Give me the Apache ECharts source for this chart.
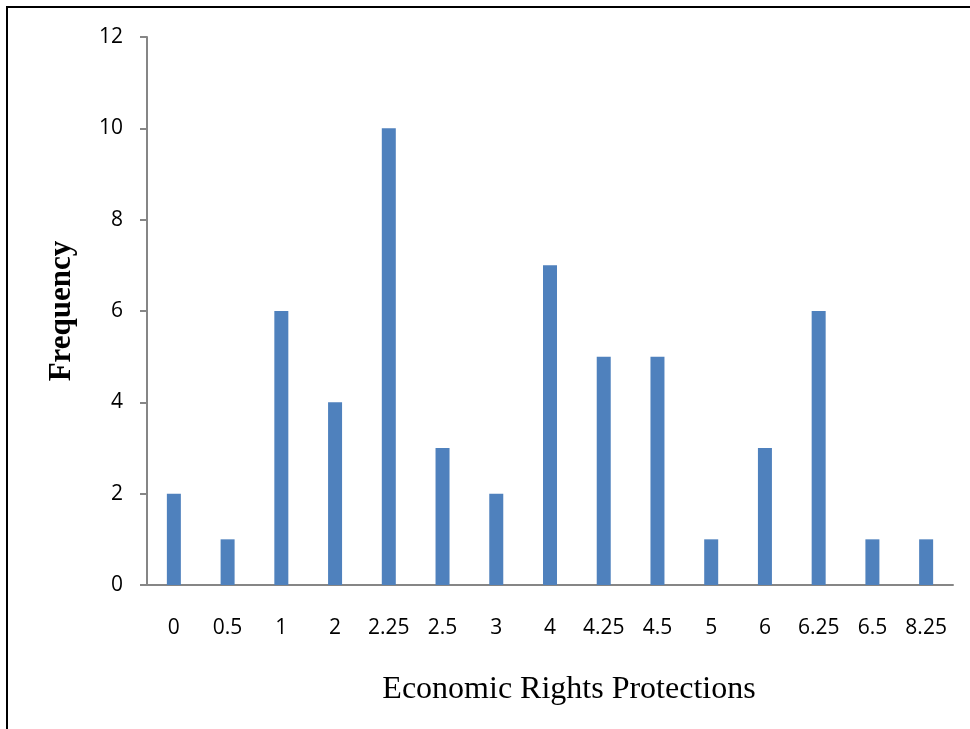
<!DOCTYPE html>
<html><head><meta charset="utf-8">
<script src="https://cdn.jsdelivr.net/npm/echarts@6/dist/echarts.min.js"></script>
<style>html,body{margin:0;padding:0;background:#fff}#c{width:970px;height:729px}</style>
</head><body><div id="c"></div>
<script>
const categories = ['0','0.5','1','2','2.25','2.5','3','4','4.25','4.5','5','6','6.25','6.5','8.25'];
const frequency = [2,1,6,4,10,3,2,7,5,5,1,3,6,1,1];
const yTicks = [0,2,4,6,8,10,12];
const xTitle = 'Economic Rights Protections';
const yTitle = 'Frequency';

const chart = echarts.init(document.getElementById('c'), null, {renderer:'canvas'});
chart.setOption({
  animation:false,
  backgroundColor:'#fff',
  graphic:[
    {type:'polyline', shape:{points:[[7,729],[7,7],[970,7]]}, style:{stroke:'#000', lineWidth:2, fill:null}},
    {type:'text', x:569, y:690, style:{text:xTitle, fill:'#000', font:'32px "Liberation Serif"', textAlign:'center', textVerticalAlign:'middle'}},
    {type:'text', x:62, y:311, rotation:Math.PI/2, style:{text:yTitle, fill:'#000', font:'bold 31px "Liberation Serif"', textAlign:'center', textVerticalAlign:'middle'}}
  ],
  grid:{left:147, right:17, top:37, bottom:144},
  xAxis:{
    type:'category', data:categories,
    axisLine:{lineStyle:{color:'#868686', width:2}},
    axisTick:{show:false},
    axisLabel:{interval:0, hideOverlap:false, color:'#000', fontFamily:'Open Sans', fontSize:21, margin:33}
  },
  yAxis:{
    type:'value', min:0, max:12, interval:2,
    axisLine:{show:true, lineStyle:{color:'#868686', width:2}},
    axisTick:{show:true, length:7, lineStyle:{color:'#868686', width:2}},
    splitLine:{show:false},
    axisLabel:{color:'#000', fontFamily:'Open Sans', fontSize:21, margin:24, formatter:v=>yTicks.includes(v)?String(v):''}
  },
  series:[{type:'bar', data:frequency, barWidth:14, itemStyle:{color:'#4f81bd'}}]
});
</script></body></html>
